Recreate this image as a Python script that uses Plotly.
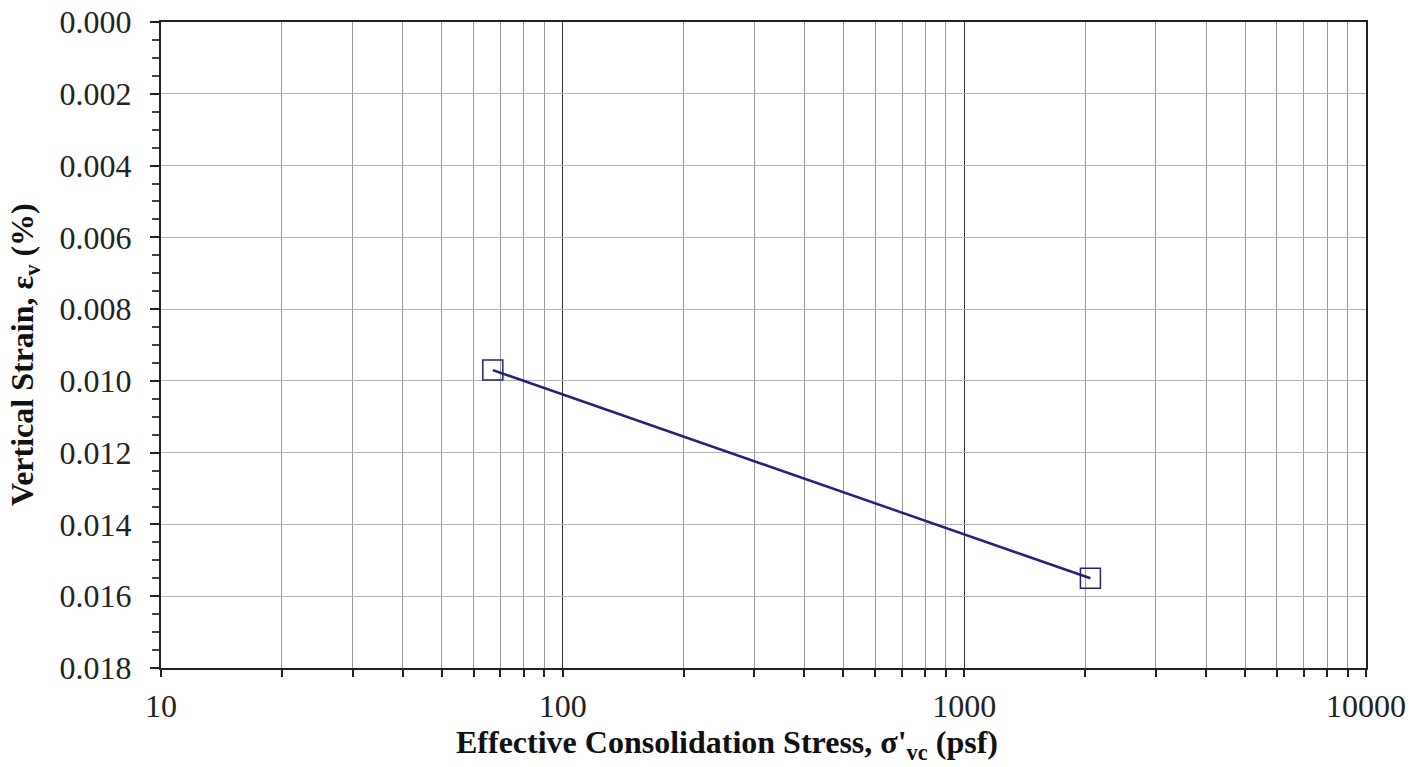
import plotly.graph_objects as go

# Consolidation test results
stress_psf = [67, 2060]             # effective consolidation stress, psf
vertical_strain = [0.0097, 0.0155]  # vertical strain

x_tick_vals = [10, 100, 1000, 10000]
x_tick_text = ["10", "100", "1000", "10000"]

LINE_COLOR = "#23237a"
FONT = "Liberation Serif, Times New Roman, serif"

# plot area in pixels
L, R, T, B = 161, 1366, 22, 668
W, H = 1423, 767

fig = go.Figure()
fig.add_trace(go.Scatter(
    x=stress_psf, y=vertical_strain,
    mode="lines",
    line=dict(color=LINE_COLOR, width=2.5),
    showlegend=False,
    hoverinfo="skip",
))
fig.add_trace(go.Scatter(
    x=stress_psf, y=vertical_strain,
    mode="markers",
    marker=dict(symbol="square-open", size=20, color=LINE_COLOR,
                line=dict(width=1.5, color=LINE_COLOR)),
    showlegend=False,
))

# axis titles placed as annotations
fig.add_annotation(
    text="<b>Effective Consolidation Stress, σ'<sub>vc</sub> (psf)</b>",
    xref="paper", yref="paper",
    x=(727 - L) / (R - L), y=-(744 - B) / (B - T),
    xanchor="center", yanchor="middle", showarrow=False,
    font=dict(family=FONT, size=32, color="#111111"),
)
fig.add_annotation(
    text="<b>Vertical Strain, ε<sub>v</sub> (%)</b>",
    xref="paper", yref="paper",
    x=-(L - 24) / (R - L), y=(B - 355) / (B - T),
    xanchor="center", yanchor="middle", showarrow=False, textangle=-90,
    font=dict(family=FONT, size=32, color="#111111"),
)

fig.update_layout(
    width=W, height=H,
    margin=dict(l=L, r=W - R, t=T, b=H - B),
    paper_bgcolor="white",
    plot_bgcolor="white",
    font=dict(family=FONT, color="#222222", size=32),
    xaxis=dict(
        type="log",
        range=[1, 4],
        tickvals=x_tick_vals,
        ticktext=x_tick_text,
        ticks="outside",
        ticklen=7,
        tickwidth=1.5,
        tickcolor="#222222",
        ticklabelstandoff=2,
        automargin=False,
        showgrid=True,
        gridcolor="#333333",
        gridwidth=1,
        minor=dict(dtick="D1", showgrid=True, gridcolor="#999999", gridwidth=1,
                   ticks="outside", ticklen=7, tickcolor="#222222", tickwidth=1.5),
        showline=True,
        linecolor="#222222",
        linewidth=2,
        mirror=True,
        zeroline=False,
    ),
    yaxis=dict(
        range=[0.018, 0],
        dtick=0.002,
        tick0=0,
        tickformat=".3f",
        ticks="outside",
        ticklen=9,
        tickwidth=1.5,
        tickcolor="#222222",
        ticklabelstandoff=12,
        automargin=False,
        showgrid=True,
        gridcolor="#b3b3b3",
        gridwidth=1,
        minor=dict(dtick=0.0005, tick0=0, showgrid=False,
                   ticks="outside", ticklen=7, tickcolor="#444444", tickwidth=1.5),
        showline=True,
        linecolor="#222222",
        linewidth=2,
        mirror=True,
        zeroline=False,
    ),
)

fig.write_html("out.html")
